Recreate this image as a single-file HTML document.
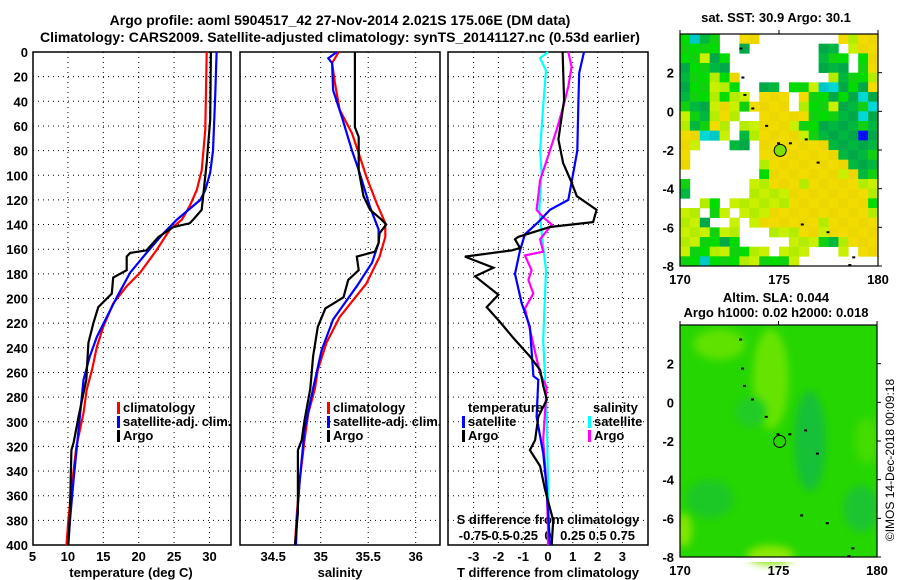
<!DOCTYPE html>
<html><head><meta charset="utf-8"><style>
body{margin:0;background:#fff}
svg{display:block;font-family:"Liberation Sans",sans-serif;font-weight:bold}
</style></head><body>
<svg id="s" width="900" height="580" viewBox="0 0 900 580">
<defs><filter id="bl" x="-50%" y="-50%" width="200%" height="200%"><feGaussianBlur stdDeviation="4"/></filter></defs>
<g id="g"></g>
<text x="340" y="25" font-size="14" text-anchor="middle">Argo profile: aoml 5904517_42 27-Nov-2014 2.021S 175.06E (DM data)</text>
<text x="340" y="42" font-size="14" text-anchor="middle">Climatology: CARS2009. Satellite-adjusted climatology: synTS_20141127.nc (0.53d earlier)</text>
<text x="776" y="22" font-size="13" text-anchor="middle">sat. SST: 30.9 Argo: 30.1</text>
<text x="776" y="302" font-size="13" text-anchor="middle">Altim. SLA: 0.044</text>
<text x="776" y="317" font-size="13" text-anchor="middle">Argo h1000: 0.02 h2000: 0.018</text>
<text transform="translate(894,460) rotate(-90)" font-size="12" font-weight="normal" text-anchor="middle">©IMOS 14-Dec-2018 00:09:18</text>
</svg>
<script>
const depths = [0,20,40,60,80,100,120,140,160,180,200,220,240,260,280,300,320,340,360,380,400];
const tClimD = [0,63,96,112,125,136,144,161,179,190,204,223,239,258,274,293,320,355,380,400];
const tClimV = [29.6,29.4,28.9,28.2,27.2,26.1,24.4,22.5,20.2,18.3,16.4,15.0,14.1,13.4,12.65,12.2,11.2,10.5,10.05,9.8];
const tSatD = [0,36,80,98,112,120,136,147,163,179,199,215,231,247,266,307,347,380,400];
const tSatV = [31.0,30.8,30.5,30.1,29.4,28.7,25.4,23.5,21.1,18.8,16.9,15.5,14.1,13.1,12.2,11.5,10.8,10.3,10.05];
const tArgoD = [0,55,90,112,128,136,139,142,150,161,163,166,177,183,196,207,220,236,266,296,317,323,347,374,400];
const tArgoV = [30.2,30.1,29.6,29.2,28.9,27.7,27.2,24.9,22.8,21.1,18.8,18.3,18.3,16.4,16.2,14.3,13.6,12.9,12.6,11.5,10.8,10.5,10.4,10.3,10.05];
const sClimD = [0,9,25,47,66,82,101,123,139,150,166,188,215,236,258,273,293,315,347,374,400];
const sClimV = [35.19,35.12,35.15,35.2,35.33,35.40,35.48,35.59,35.68,35.68,35.62,35.48,35.2,35.06,34.97,34.94,34.87,34.83,34.78,34.75,34.73];
const sSatD = [0,5,9,31,52,80,98,126,144,155,171,190,217,242,273,307,347,380,400];
const sSatV = [35.17,35.08,35.12,35.13,35.22,35.33,35.41,35.52,35.61,35.61,35.54,35.38,35.13,35.01,34.92,34.83,34.78,34.75,34.74];
const sArgoD = [0,61,69,96,117,128,136,140,147,155,162,166,177,185,199,208,223,247,273,299,315,323,336,374,400];
const sArgoV = [35.36,35.36,35.4,35.4,35.45,35.52,35.64,35.69,35.62,35.61,35.57,35.38,35.4,35.29,35.24,35.05,34.97,34.92,34.89,34.83,34.8,34.76,34.76,34.76,34.73];
const dtArgoD = [0,39,71,90,106,117,128,138,142,150,152,159,161,166,175,182,197,207,219,232,247,258,271,282,296,315,323,336,355,380,400];
const dtArgoV = [0.59,0.65,0.42,0.61,0.95,1.16,1.96,1.82,0.08,-1.2,-1.33,-1.13,-1.46,-3.35,-2.2,-2.94,-2.0,-2.47,-1.94,-1.4,-0.73,-0.32,-0.19,-0.05,-0.39,-0.52,-0.73,-0.32,-0.12,0.21,0.15];
const dtSatD = [0,17,44,80,98,120,128,138,148,161,180,204,223,263,266,296,326,355,400];
const dtSatV = [1.45,1.26,1.22,1.18,1.02,0.82,0.08,-0.39,-0.93,-1.13,-1.33,-1.06,-0.73,-0.59,-0.39,-0.46,-0.19,-0.05,0.08];
const dsArgoD = [0,12,28,44,63,88,104,128,134,140,152,162,165,177,185,196,208,231,261,272,315,355,385,400];
const dsArgoV = [0.205,0.238,0.205,0.155,0.088,-0.013,-0.08,-0.115,-0.048,0.038,-0.08,-0.048,-0.233,-0.165,-0.198,-0.148,-0.233,-0.165,-0.08,-0.013,-0.048,-0.013,0,0];
const dsSatD = [0,5,15,44,80,98,128,158,177,234,263,293,347,400];
const dsSatV = [0,-0.08,-0.02,-0.048,-0.08,-0.065,-0.088,-0.048,-0.02,-0.048,-0.03,-0.013,0,0.013];
const tTicks = [5,10,15,20,25,30];
const sTicks = [34.5,35,35.5,36];
const dtTicks = [-3,-2,-1,0,1,2,3];
const dsTicks = [-0.75,-0.5,-0.25,0,0.25,0.5,0.75];
const dsTickLabels = ['-0.75','-0.5','-0.25','0','0.25','0.5','0.75'];
const latTicks = [-8,-6,-4,-2,0,2];
const lonTicks = [170,175,180];
const sstRows = [
"gcdg..yy........ylyy","gggg..d.......dd.lyy","ggldg.........dgg.gy","dggdd.........ddd.gy",
"dgglgy.........ldggl","dggllg..dd.gglccdgdy","dgglgll.yyy.yggdgdcd","gddlylgyyyy.lgglddgc",
"lgdlyl..yyyyygggddcd","ldgyl.llyyylggddddgd","yyccl.dlyyyylgddddbd","yl...dd.yyyyyyyddddd",
"y.......yyyyyyyydddg","y.......lyyyyyyyyddd","........gyyyyyyylydg","g......llyyylyyyyyll",
"d......llllyyyyyyyyl","..lg.llllllyyyyyyyyg","ll.gl.lllyyyyyyyyyyl","lld..l.lyyyyyylyyyyy",
"lllgll...lllyylyyyyy","llggdg.....lllgdlyyy","lggllggll.lll...l.yy","ggcgggllgggl........"];
const argoLon = 175.06, argoLat = -2.021;
const coastLon = [173.0,173.1,173.2,173.6,174.3,174.9,175.5,176.3,176.9,176.1,177.4,178.7,178.5];
const coastLat = [3.3,1.8,0.9,0.2,-0.7,-1.6,-1.6,-1.4,-2.6,-5.8,-6.2,-7.5,-7.9];

const NS="http://www.w3.org/2000/svg", G=document.getElementById('g');
function el(t,a,p){const e=document.createElementNS(NS,t);for(const k in a)e.setAttribute(k,a[k]);(p||G).appendChild(e);return e;}
const yD=d=>52+d*1.2325;
const xT=v=>32.5+(v-5)*7.08, xS=v=>320.7+(v-35)*95, xDT=v=>548+v*24.8, xDS=v=>548+v*99.2;
const panels=[[33,231],[240,440],[448,648]];
panels.forEach((p,i)=>{
  for(const d of depths){ if(d>0&&d<400){const l=el('line',{x1:p[0],x2:p[1],y1:yD(d),y2:yD(d),stroke:'#000','stroke-dasharray':'1 4'});
  
  }}
});
function vgrid(ticks,fx,name){for(const t of ticks){const l=el('line',{x1:fx(t),x2:fx(t),y1:52,y2:545,stroke:'#000','stroke-dasharray':'1 4'});
  
  }}
vgrid(tTicks.slice(1),xT,'temp-grid-v');vgrid(sTicks,xS,'sal-grid-v');vgrid(dtTicks,xDT,'diff-grid-v');
panels.forEach((p,i)=>{const r=el('rect',{x:p[0],y:52,width:p[1]-p[0],height:493,fill:'none',stroke:'#000','stroke-width':1.5});
  
  });
for(const d of depths){const t=el('text',{x:28,y:yD(d)+5,'font-size':13,'text-anchor':'end'});t.textContent=d;
  
  }
function xl(ticks,fx,y,labels,name){ticks.forEach((v,i)=>{const t=el('text',{x:fx(v),y:y,'font-size':13,'text-anchor':'middle'});t.textContent=labels?labels[i]:v;
  
  });}
xl(tTicks,xT,561,null,'temp-tick-label');xl(sTicks,xS,561,null,'sal-tick-label');xl(dtTicks,xDT,561,null,'tdiff-tick-label');
xl(dsTicks,xDS,540,dsTickLabels,'sdiff-tick-label');
function txt(s,x,y,name,anchor,fs){const t=el('text',{x:x,y:y,'font-size':fs||13,'text-anchor':anchor||'middle'});t.textContent=s;
  
  return t;}
txt('temperature (deg C)',131,577,'temp-axis-title');txt('salinity',340,577,'sal-axis-title');
txt('T difference from climatology',548,577,'tdiff-axis-title');txt('S difference from climatology',548,524,'sdiff-axis-title');
function line(D,V,fx,col,name){const pts=D.map((d,i)=>fx(V[i]).toFixed(1)+','+yD(d).toFixed(1)).join(' ');
  const l=el('polyline',{points:pts,fill:'none',stroke:col,'stroke-width':2.2});
  
  }
line(tClimD,tClimV,xT,'#f00','temp-climatology-line');line(tSatD,tSatV,xT,'#00f','temp-satellite-line');line(tArgoD,tArgoV,xT,'#000','temp-argo-line');
line(sClimD,sClimV,xS,'#f00','sal-climatology-line');line(sSatD,sSatV,xS,'#00f','sal-satellite-line');line(sArgoD,sArgoV,xS,'#000','sal-argo-line');
line(dsSatD,dsSatV,xDS,'#0ff','sdiff-satellite-line');line(dsArgoD,dsArgoV,xDS,'#f0f','sdiff-argo-line');
line(dtSatD,dtSatV,xDT,'#00f','tdiff-satellite-line');line(dtArgoD,dtArgoV,xDT,'#000','tdiff-argo-line');
function leg(x,y,col,s,name){const m=el('rect',{x:x,y:y-10,width:3,height:12,fill:col});
  
  
  txt(s,x+6,y,name,'start');}
[[117,'climatology','#f00'],[117,'satellite-adj. clim.','#00f'],[117,'Argo','#000']].forEach((e,i)=>leg(e[0],412+i*14,e[2],e[1],'temp-legend-entry'));
[[327,'climatology','#f00'],[327,'satellite-adj. clim.','#00f'],[327,'Argo','#000']].forEach((e,i)=>leg(e[0],412+i*14,e[2],e[1],'sal-legend-entry'));
txt('temperature',468,412,'tdiff-legend-header','start');txt('salinity',593,412,'sdiff-legend-header','start');
leg(462,426,'#00f','satellite','tdiff-legend-entry');leg(462,440,'#000','Argo','tdiff-legend-entry');
leg(588,426,'#0ff','satellite','sdiff-legend-entry');leg(588,440,'#f0f','Argo','sdiff-legend-entry');
const maps=[{x0:680,x1:878,y0:34,y1:266,name:'sst-map'},{x0:680,x1:877,y0:325,y1:557,name:'sla-map'}];
const colors={y:['#f2dc00','#ecd800'],l:['#c8f000','#b4ec00'],g:['#00dc00','#10d010'],d:['#00b840','#00a848'],c:['#00d8d8','#00c8c8'],b:['#0010ff','#0010ff']};
maps.forEach((m,mi)=>{
  const fx=l=>m.x0+(l-170)/10*(m.x1-m.x0), fy=a=>m.y0+(4-a)/12*(m.y1-m.y0);
  if(mi===0){
    sstRows.forEach((row,r)=>{[...row].forEach((c,ci)=>{if(c==='.')return;
      const x=fx(170+ci*0.5),y=fy(4-r*0.5);
      const rc=el('rect',{x:x,y:y,width:fx(170.5)-fx(170)+0.3,height:fy(3.5)-fy(4)+0.3,fill:colors[c][(r+ci)%2]});
      
      });});
  } else {
    const bg=el('rect',{x:m.x0,y:m.y0,width:m.x1-m.x0,height:m.y1-m.y0,fill:'#26d600'});
    
    
    [[174.6,1.2,0.9,2.6,'#66e400'],[172,3,1.3,0.8,'#5ee200'],[174.6,-7.9,1.2,0.5,'#8ce800'],[170.2,-6.6,0.4,0.9,'#84e600'],[179.5,-2,0.6,1.2,'#44dc00'],
     [176.6,-2,0.8,2.6,'#14c038'],[171.5,-5,1.2,1,'#1cc828'],[179.2,-5.5,0.9,1.2,'#1cc430'],[173.6,-0.5,0.8,0.8,'#20cc28']].forEach(e=>{
      const p=el('ellipse',{cx:fx(e[0]),cy:fy(e[1]),rx:e[2]*19.8,ry:e[3]*19.3,fill:e[4],filter:'url(#bl)'});
      
      });
    const wm=el('path',{d:`M660 321H900V562H660Z M${m.x0} ${m.y0}V${m.y1}H${m.x1}V${m.y0}Z`,fill:'#fff','fill-rule':'evenodd'});
    
    
  }
  coastLon.forEach((l,i)=>{const c=el('rect',{x:fx(l),y:fy(coastLat[i]),width:3,height:2,fill:'#000'});
    
    });
  const ci=el('circle',{cx:fx(argoLon),cy:fy(argoLat),r:6,fill:mi===0?'#7ee000':'none',stroke:'#000','stroke-width':1});
  
  
  const fr=el('rect',{x:m.x0,y:m.y0,width:m.x1-m.x0,height:m.y1-m.y0,fill:'none',stroke:'#000','stroke-width':1.2});
  
  
  latTicks.forEach(a=>{const t=el('text',{x:m.x0-6,y:fy(a)+5,'font-size':13,'text-anchor':'end'});t.textContent=a;
    
    
    el('line',{x1:m.x1,x2:m.x1+4,y1:fy(a),y2:fy(a),stroke:'#000'});});
  lonTicks.forEach(l=>{const t=el('text',{x:fx(l),y:m.y1+18,'font-size':13,'text-anchor':'middle'});t.textContent=l;
    
    
    el('line',{x1:fx(l),x2:fx(l),y1:m.y0,y2:m.y0-4,stroke:'#000'});});
});
</script>
</body></html>
